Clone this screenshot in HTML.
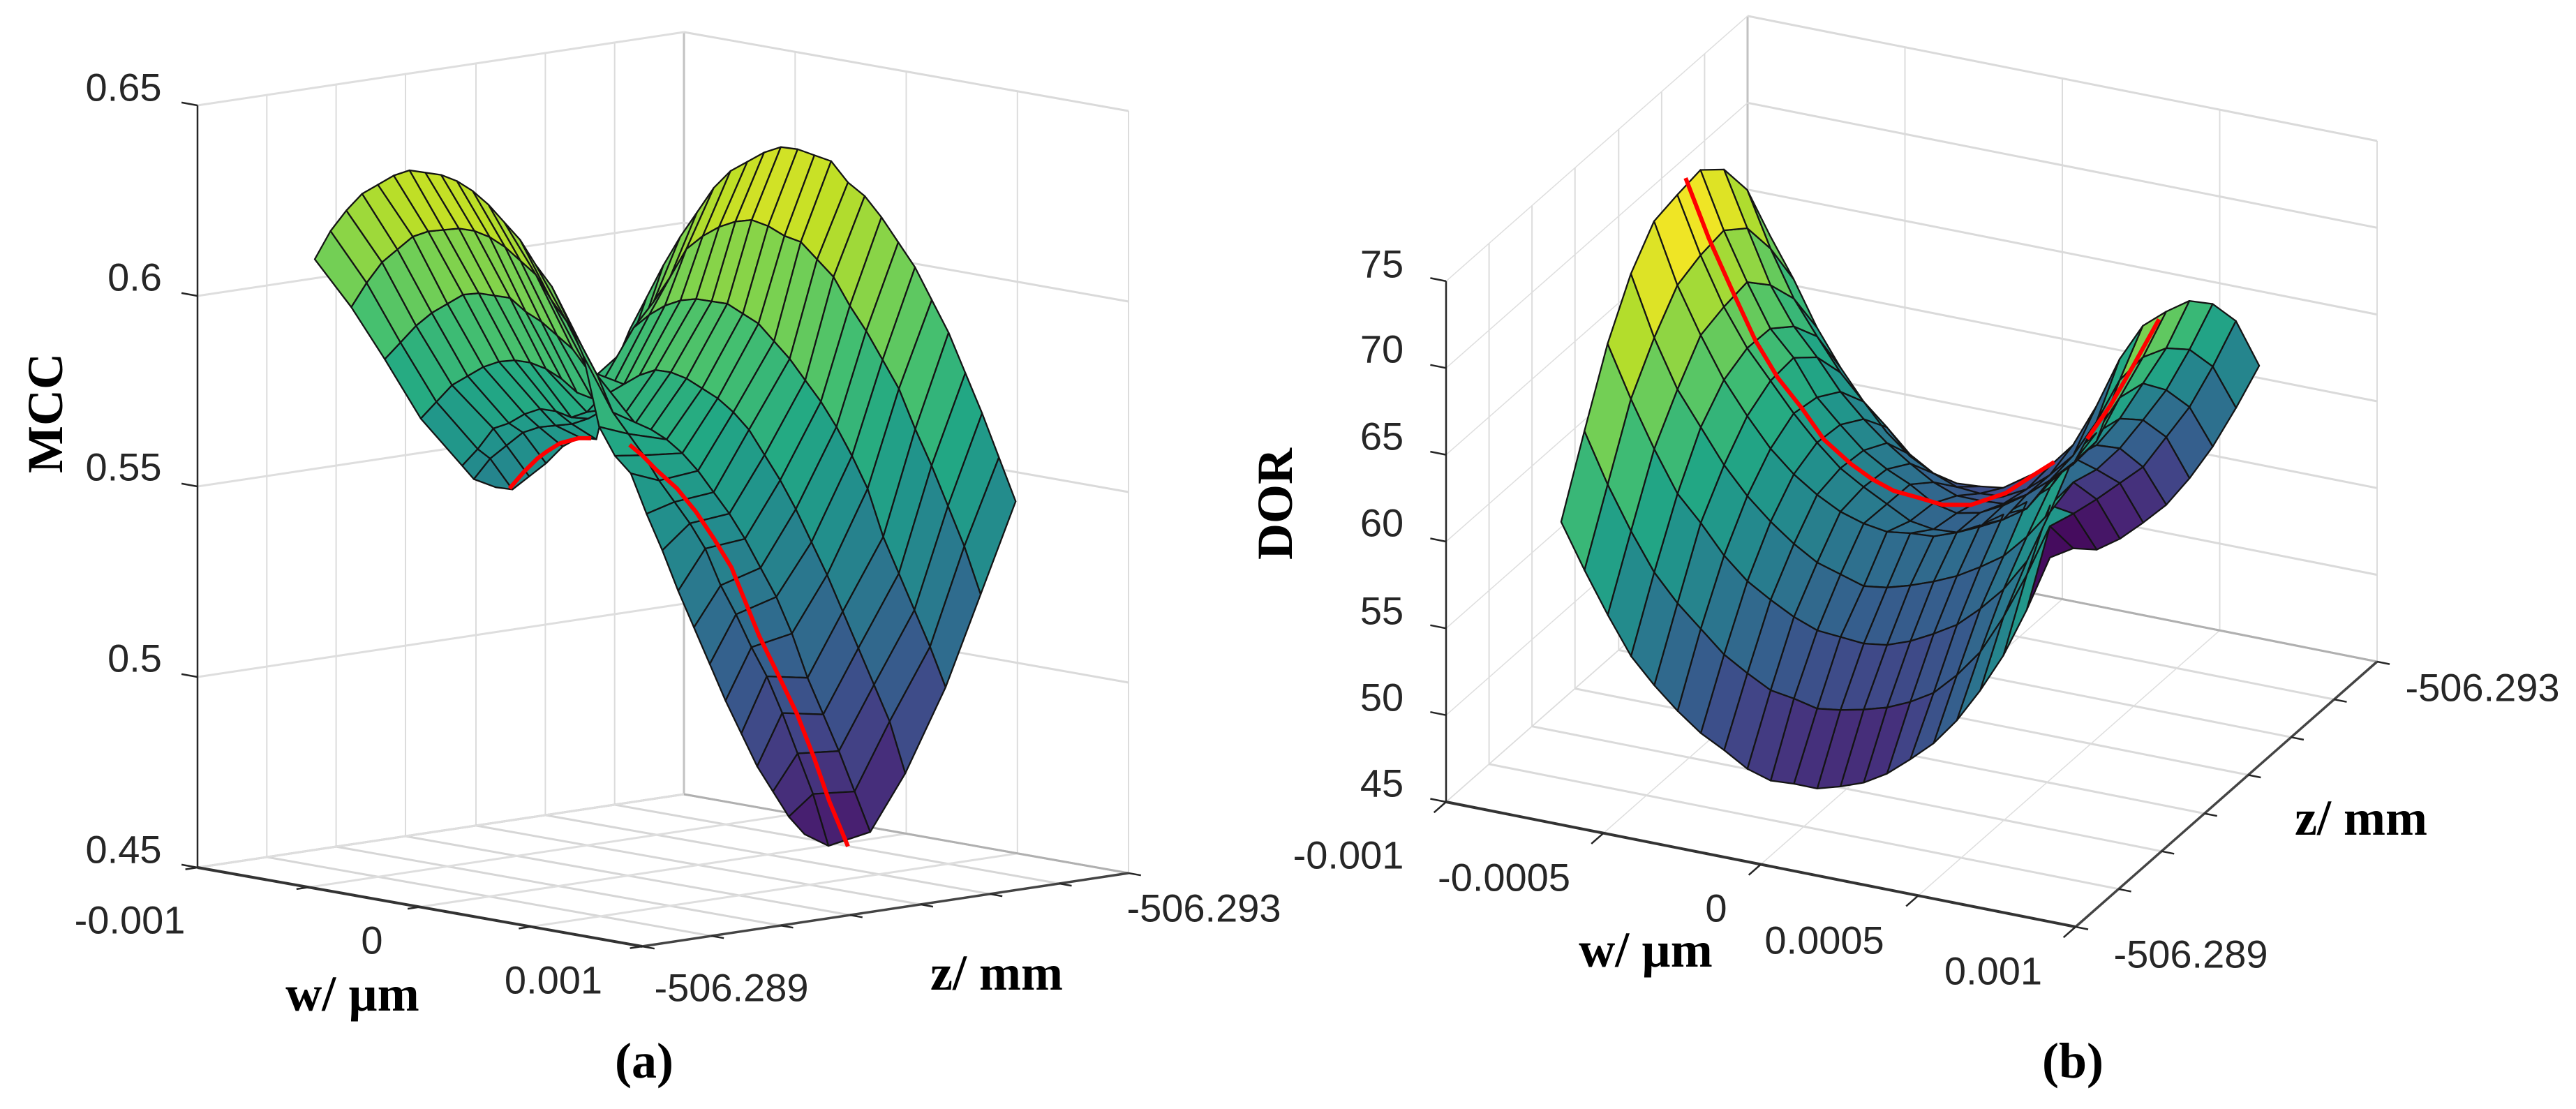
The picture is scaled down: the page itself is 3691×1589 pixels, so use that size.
<!DOCTYPE html>
<html lang="en">
<head>
<meta charset="utf-8">
<title>MCC and DOR surfaces over w and z</title>
<style>
html,body{margin:0;padding:0;background:#fff}
svg{display:block}
.tick{font-family:"Liberation Sans",Arial,sans-serif;font-size:56px;fill:#262626;text-anchor:middle;dominant-baseline:central}
.title{font-family:"Liberation Serif","Times New Roman",serif;font-weight:bold;font-size:72px;fill:#000;text-anchor:middle;dominant-baseline:central}
</style>
</head>
<body>
<svg id="chart" xmlns="http://www.w3.org/2000/svg" width="3691" height="1589" viewBox="0 0 3691 1589">
<rect x="0" y="0" width="3691" height="1589" fill="#ffffff"/>
<g id="panel-a"></g>
<g id="panel-b"></g>

<g>
<text class="tick" x="177" y="125">0.65</text>
<text class="tick" x="193" y="397">0.6</text>
<text class="tick" x="177" y="669">0.55</text>
<text class="tick" x="193" y="943">0.5</text>
<text class="tick" x="177" y="1217">0.45</text>
<text class="tick" x="186" y="1318">-0.001</text>
<text class="tick" x="533" y="1347">0</text>
<text class="tick" x="793" y="1404">0.001</text>
<text class="tick" x="1048" y="1415">-506.289</text>
<text class="tick" x="1725" y="1301">-506.293</text>
<text class="title" transform="translate(65 592) rotate(-90)">MCC</text>
<text class="title" x="505" y="1424">w/ µm</text>
<text class="title" x="1428" y="1394">z/ mm</text>
<text class="title" x="923" y="1520">(a)</text>
</g>

<g>
<text class="tick" x="1980" y="378">75</text>
<text class="tick" x="1980" y="500">70</text>
<text class="tick" x="1980" y="625">65</text>
<text class="tick" x="1980" y="749">60</text>
<text class="tick" x="1980" y="875">55</text>
<text class="tick" x="1980" y="999">50</text>
<text class="tick" x="1980" y="1122">45</text>
<text class="tick" x="1932" y="1225">-0.001</text>
<text class="tick" x="2155" y="1257">-0.0005</text>
<text class="tick" x="2459" y="1301">0</text>
<text class="tick" x="2614" y="1347">0.0005</text>
<text class="tick" x="2856" y="1391">0.001</text>
<text class="tick" x="3139" y="1367">-506.289</text>
<text class="tick" x="3557" y="985">-506.293</text>
<text class="title" transform="translate(1827 722) rotate(-90)">DOR</text>
<text class="title" x="2358" y="1361">w/ µm</text>
<text class="title" x="3383" y="1172">z/ mm</text>
<text class="title" x="2970" y="1520">(b)</text>
</g>
</svg>

<script>
/* ---------- panel (a): MCC ---------- */
const mccWTicks = [-0.001, -0.0005, 0, 0.0005, 0.001];
const mccZTicks = [-506.289, -506.28957, -506.29014, -506.29071, -506.29129, -506.29186, -506.29243, -506.293];
const mccVTicks = [0.45, 0.5, 0.55, 0.6, 0.65];

const mccRowWStart = [-0.001, -0.001, -0.001, -0.001, -0.001, -0.001, -0.001];
const mccRowWEnd = [0.001, 0.001, 0.001, 0.001, 0.001, 0.001, 0.001];
const mccRowZStart = [-506.289964, -506.290264, -506.29054, -506.290836, -506.291176, -506.291272, -506.291452];
const mccRowZEnd = [-506.290336, -506.290532, -506.290876, -506.291164, -506.291496, -506.291784, -506.292072];

const mccValues = [
[.605,.613,.619,.624,.627,.630,.632,.632,.632,.631,.629,.626,.622,.618,.612,.607,.599,.590,.572,.565,.561,.551,.542,.532,.523,.514,.505,.497,.489,.483,.477,.473],
[.591,.598,.604,.608,.612,.614,.615,.616,.616,.615,.613,.610,.607,.601,.596,.590,.583,.574,.569,.564,.558,.553,.548,.542,.533,.526,.518,.511,.502,.492,.482,.469],
[.576,.581,.586,.590,.593,.596,.597,.597,.597,.594,.592,.589,.586,.581,.575,.569,.569,.568,.566,.563,.559,.554,.549,.543,.536,.529,.520,.509,.500,.491,.481,.471],
[.559,.564,.569,.572,.575,.577,.578,.578,.577,.575,.572,.571,.573,.576,.579,.581,.581,.580,.578,.576,.573,.569,.563,.557,.550,.542,.534,.525,.516,.507,.498,.485],
[.545,.550,.556,.558,.561,.563,.563,.562,.564,.569,.580,.588,.592,.595,.597,.598,.598,.598,.596,.594,.590,.586,.581,.576,.570,.563,.555,.543,.534,.525,.516,.506],
[.541,.547,.551,.555,.557,.558,.559,.561,.564,.575,.583,.594,.601,.609,.613,.616,.618,.619,.618,.616,.615,.611,.607,.600,.594,.587,.580,.570,.561,.551,.541,.529],
[.538,.538,.542,.546,.551,.554,.554,.573,.584,.593,.602,.610,.617,.624,.629,.632,.635,.637,.637,.636,.635,.630,.627,.622,.616,.610,.602,.594,.584,.574,.563,.552]
];

const mccBestW = [-.00094,-.00086,-.00078,-.00072,-.00064,-.00054,-.00046,null,-.00024,-.00016,-.00008,.00004,.00014,.00024,.00034,.00042,.00052,.00062,.00072,.00082,.0009,.001];
const mccBestZ = [-506.291456,-506.291424,-506.291392,-506.29136,-506.291324,-506.291298,-506.29125,null,-506.291164,-506.29112,-506.291089,-506.291042,-506.291014,-506.29098,-506.290941,-506.290904,-506.290842,-506.290814,-506.290786,-506.290746,-506.290722,-506.290693];
const mccBestV = [.5383,.5435,.5481,.5507,.5539,.5564,.5574,null,.5584,.5567,.5539,.5504,.5455,.5396,.5333,.5257,.5175,.5086,.4995,.489,.4788,.4681];

/* ---------- panel (b): DOR ---------- */
const dorWTicks = [-0.001, -0.0005, 0, 0.0005, 0.001];
const dorZTicks = [-506.289, -506.28957, -506.29014, -506.29071, -506.29129, -506.29186, -506.29243, -506.293];
const dorVTicks = [45, 50, 55, 60, 65, 70, 75];

const dorRowWStart = [-.000504,-.000522,-.00054,-.000558,-.000576,-.000594,-.000612,-.000629,-.000647,-.000665];
const dorRowWEnd = [.000633,.000615,.000598,.00058,.000562,.000544,.000526,.000508,.00049,.000472];
const dorRowZStart = [-506.288456,-506.288839,-506.289222,-506.289606,-506.289989,-506.290372,-506.290755,-506.291138,-506.291521,-506.291904];
const dorRowZEnd = [-506.290192,-506.290576,-506.290959,-506.291342,-506.291725,-506.292108,-506.292491,-506.292874,-506.293258,-506.293641];

const dorValues = [
[65.0,62.1,59.4,56.9,55.1,53.5,52.1,51.0,49.8,49.0,48.7,48.3,48.3,48.4,48.8,49.5,50.3,51.5,53.1,55.0,57.5,60.4],
[68.7,65.5,62.7,60.2,58.3,56.7,55.1,53.9,52.8,52.2,51.5,51.3,51.2,51.2,51.4,51.8,52.7,53.9,55.8,58.1,60.8,59.4],
[72.2,68.9,65.9,63.2,61.4,59.4,57.8,56.6,55.5,54.6,54.1,53.6,53.4,53.5,53.8,54.2,55.0,56.0,57.5,60.6,60.0,57.8],
[74.7,70.9,67.8,65.5,63.2,61.3,59.7,58.3,57.1,56.3,55.5,55.3,55.3,55.4,55.6,56.0,56.5,57.5,58.8,60.4,59.3,56.9],
[76.2,72.4,69.4,66.7,64.5,62.5,60.9,59.6,58.5,57.7,57.1,56.9,56.6,56.7,57.0,57.5,58.1,58.8,60.4,59.6,58.7,56.3],
[76.2,72.6,69.5,67.0,65.0,63.0,61.2,59.6,58.4,57.3,56.2,55.6,55.3,55.5,55.8,56.3,57.7,59.2,59.6,59.3,58.1,55.8],
[76.1,72.5,69.4,66.6,64.8,62.4,60.7,59.1,57.9,56.9,55.7,55.0,54.9,55.2,55.7,56.4,57.3,58.9,59.6,59.4,58.3,55.8],
[74.6,71.1,67.7,65.2,63.3,61.2,59.5,58.0,56.7,55.5,54.6,54.2,53.9,54.3,55.0,55.8,57.0,59.4,60.1,59.6,58.5,56.1],
[71.9,68.4,65.4,63.1,60.9,59.1,57.5,55.8,54.6,53.7,53.2,52.9,53.2,53.9,54.9,56.7,59.0,60.2,60.6,60.4,59.3,56.8],
[67.7,65.1,62.2,59.8,57.7,55.8,54.3,53.2,52.5,52.2,52.0,52.5,53.0,54.1,56.2,58.8,60.6,61.3,61.8,61.5,60.4,57.7]
];

/* facet colour values for the right-hand columns (w index 14..20) */
const dorFacetColor = [
[51.8,53.3,54.7,57.0,59.1,61.1,46.9],
[53.3,54.1,55.6,57.6,59.9,61.1,46.9],
[54.7,55.6,57.0,59.9,62.0,49.5,47.7],
[55.6,57.0,60.5,62.0,56.2,50.9,48.9],
[55.6,57.6,62.0,58.2,54.7,51.8,50.1],
[55.6,59.1,63.4,59.9,56.4,54.7,51.8],
[55.9,60.5,64.9,62.8,58.5,56.4,54.7],
[55.9,62.0,66.9,65.1,62.8,59.1,56.7],
[56.2,63.4,69.2,67.8,65.4,62.8,59.1]
];

const dorBestW = [-.000596,-.00055,-.000502,-.000448,-.000403,-.000347,-.000296,-.00024,-.00019,-.000148,-.000093,-.000042,.000017,.000098,.000163,.000204,null,.000252,.00027,.000252,.000239];
const dorBestZ = [-506.290491,-506.290603,-506.290717,-506.290799,-506.290908,-506.290995,-506.291072,-506.291199,-506.291276,-506.29138,-506.291464,-506.291584,-506.291714,-506.291838,-506.291937,-506.292042,null,-506.292278,-506.29251,-506.292894,-506.293285];
const dorBestV = [76.7,73.0,69.7,66.7,64.3,62.4,60.5,58.8,57.8,56.9,56.4,55.7,55.4,55.9,56.8,57.3,null,57.9,59.0,59.8,60.9];

const viridisStops = ['#440154','#482475','#414487','#355f8d','#2a788e','#21918c','#22a884','#44bf70','#7ad151','#bddf26','#fde725'];

function viridis(f) {
  const c = Math.max(0, Math.min(1, f)) * (viridisStops.length - 1);
  const k = Math.min(Math.floor(c), viridisStops.length - 2);
  const r = c - k;
  const a = parseInt(viridisStops[k].slice(1), 16);
  const b = parseInt(viridisStops[k + 1].slice(1), 16);
  const ch = function (s) {
    const p = (a >> s) & 255;
    const q = (b >> s) & 255;
    return Math.round(p + (q - p) * r);
  };
  return 'rgb(' + ch(16) + ',' + ch(8) + ',' + ch(0) + ')';
}

const SVGNS = 'http://www.w3.org/2000/svg';

function drawLine(parent, a, b, stroke, width, name) {
  const el = document.createElementNS(SVGNS, 'line');
  
  
  el.setAttribute('x1', a[0].toFixed(1));
  el.setAttribute('y1', a[1].toFixed(1));
  el.setAttribute('x2', b[0].toFixed(1));
  el.setAttribute('y2', b[1].toFixed(1));
  el.setAttribute('stroke', stroke);
  el.setAttribute('stroke-width', width);
  parent.appendChild(el);
}

function drawPanel(cfg) {
  const root = document.getElementById(cfg.id);
  const wMin = cfg.wTicks[0];
  const wMax = cfg.wTicks[cfg.wTicks.length - 1];
  const zFront = cfg.zTicks[0];
  const zBack = cfg.zTicks[cfg.zTicks.length - 1];
  const vMin = cfg.vTicks[0];
  const vMax = cfg.vTicks[cfg.vTicks.length - 1];

  const project = function (w, z, v) {
    const u = (w - wMin) / (wMax - wMin);
    const t = (zFront - z) / (zFront - zBack);
    return [
      cfg.ox + cfg.ux * u + cfg.tx * t,
      cfg.oy + cfg.uy * u + cfg.ty * t - (v - vMin) * cfg.vScale
    ];
  };

  /* walls and floor */
  cfg.zTicks.forEach(function (z, k) {
    drawLine(root, project(wMin, z, vMin), project(wMax, z, vMin), cfg.floorColor, cfg.floorZWidth, 'floor-gridline-z');
    if (k > 0) {
      const isBack = k === cfg.zTicks.length - 1;
      drawLine(root, project(wMin, z, vMin), project(wMin, z, vMax), isBack ? '#c2c2c2' : '#dcdcdc', isBack ? 3 : 2, 'left-wall-gridline-z');
    }
  });
  cfg.wTicks.forEach(function (w, k) {
    drawLine(root, project(w, zFront, vMin), project(w, zBack, vMin), k === 0 ? '#b5b5b5' : cfg.floorColor2, cfg.floorWWidth, 'floor-gridline-w');
    if (k > 0) {
      drawLine(root, project(w, zBack, vMin), project(w, zBack, vMax), '#dcdcdc', 2, 'back-wall-gridline-w');
    }
  });
  cfg.vTicks.forEach(function (v) {
    drawLine(root, project(wMin, zFront, v), project(wMin, zBack, v), '#dedede', cfg.leftWallWidth, 'left-wall-gridline-v');
    drawLine(root, project(wMin, zBack, v), project(wMax, zBack, v), '#dadada', 3, 'back-wall-gridline-v');
  });
  drawLine(root, project(wMin, zBack, vMin), project(wMax, zBack, vMin), '#b0b0b0', 3, 'floor-back-edge');

  /* axes and ticks */
  drawLine(root, project(wMin, zFront, vMin), project(wMin, zFront, vMax), '#262626', 2.5, 'value-axis-line');
  drawLine(root, project(wMin, zFront, vMin), project(wMax, zFront, vMin), '#333333', 4, 'w-axis-line');
  drawLine(root, project(wMax, zFront, vMin), project(wMax, zBack, vMin), '#444444', 3.5, 'z-axis-line');
  cfg.vTicks.forEach(function (v) {
    const a = project(wMin, zFront, v);
    const b = project(wMin - cfg.tickU * (wMax - wMin), zFront, v);
    drawLine(root, a, b, '#262626', 2.5, 'value-axis-tick');
  });
  cfg.wTicks.forEach(function (w) {
    const a = project(w, zFront, vMin);
    const b = project(w, zFront + cfg.tickT * (zFront - zBack), vMin);
    drawLine(root, a, b, '#262626', 2.5, 'w-axis-tick');
  });
  cfg.zTicks.forEach(function (z) {
    const a = project(wMax, z, vMin);
    const b = project(wMax + cfg.tickZ * (wMax - wMin), z, vMin);
    drawLine(root, a, b, '#262626', 2.5, 'z-axis-tick');
  });

  /* surface */
  const rows = cfg.values.length;
  const cols = cfg.values[0].length;
  const node = function (i, j) {
    const f = i / (cols - 1);
    const w = cfg.rowWStart[j] + (cfg.rowWEnd[j] - cfg.rowWStart[j]) * f;
    const z = cfg.rowZStart[j] + (cfg.rowZEnd[j] - cfg.rowZStart[j]) * f;
    return project(w, z, cfg.values[j][i]);
  };
  const cells = [];
  for (let j = 0; j < rows - 1; j++) {
    for (let i = 0; i < cols - 1; i++) {
      cells.push({ i: i, j: j, key: cfg.depthI * i + cfg.depthJ * j });
    }
  }
  cells.sort(function (p, q) { return p.key - q.key; });
  const surface = document.createElementNS(SVGNS, 'g');
  
  
  root.appendChild(surface);
  cells.forEach(function (c) {
    const pts = [node(c.i, c.j), node(c.i + 1, c.j), node(c.i + 1, c.j + 1), node(c.i, c.j + 1)];
    let val = (cfg.values[c.j][c.i] + cfg.values[c.j][c.i + 1] + cfg.values[c.j + 1][c.i] + cfg.values[c.j + 1][c.i + 1]) / 4;
    if (cfg.facetColor && c.i >= cfg.facetFrom) {
      val = cfg.facetColor[c.j][c.i - cfg.facetFrom];
    }
    const el = document.createElementNS(SVGNS, 'polygon');
    
    
    el.setAttribute('points', pts.map(function (p) { return p[0].toFixed(1) + ',' + p[1].toFixed(1); }).join(' '));
    el.setAttribute('fill', viridis((val - cfg.cMin) / (cfg.cMax - cfg.cMin)));
    el.setAttribute('stroke', '#141414');
    el.setAttribute('stroke-width', '2.3');
    el.setAttribute('stroke-linejoin', 'round');
    surface.appendChild(el);
  });

  /* optimum curve */
  let segment = [];
  const flush = function () {
    if (segment.length > 1) {
      const el = document.createElementNS(SVGNS, 'polyline');
      
      
      el.setAttribute('points', segment.map(function (p) { return p[0].toFixed(1) + ',' + p[1].toFixed(1); }).join(' '));
      el.setAttribute('fill', 'none');
      el.setAttribute('stroke', '#ff0000');
      el.setAttribute('stroke-width', '6');
      el.setAttribute('stroke-linejoin', 'round');
      root.appendChild(el);
    }
    segment = [];
  };
  cfg.bestW.forEach(function (w, k) {
    if (w === null) {
      flush();
    } else {
      segment.push(project(w, cfg.bestZ[k], cfg.bestV[k]));
    }
  });
  flush();
}

drawPanel({
  id: 'panel-a', surfaceName: 'mcc-surface',
  wTicks: mccWTicks, zTicks: mccZTicks, vTicks: mccVTicks,
  ox: 283, oy: 1243, ux: 637, uy: 113, tx: 697, ty: -105, vScale: 5460,
  tickU: 0.036, tickT: 0.025, tickZ: 0.028,
  floorColor: '#d6d6d6', floorColor2: '#dedede', floorZWidth: 3, floorWWidth: 3, leftWallWidth: 3,
  values: mccValues, rowWStart: mccRowWStart, rowWEnd: mccRowWEnd, rowZStart: mccRowZStart, rowZEnd: mccRowZEnd,
  depthI: 3.3, depthJ: -6.5, cMin: 0.46, cMax: 0.64,
  bestW: mccBestW, bestZ: mccBestZ, bestV: mccBestV
});

drawPanel({
  id: 'panel-b', surfaceName: 'dor-surface',
  wTicks: dorWTicks, zTicks: dorZTicks, vTicks: dorVTicks,
  ox: 2072, oy: 1149, ux: 902, uy: 179, tx: 432, ty: -380, vScale: 24.87,
  tickU: 0.025, tickT: 0.04, tickZ: 0.02,
  floorColor: '#dadada', floorColor2: '#dedede', floorZWidth: 3, floorWWidth: 1.5, leftWallWidth: 1.5,
  values: dorValues, rowWStart: dorRowWStart, rowWEnd: dorRowWEnd, rowZStart: dorRowZStart, rowZEnd: dorRowZEnd,
  depthI: -1.8, depthJ: -1, cMin: 46, cMax: 75,
  facetColor: dorFacetColor, facetFrom: 14,
  bestW: dorBestW, bestZ: dorBestZ, bestV: dorBestV
});
</script>
</body>
</html>
